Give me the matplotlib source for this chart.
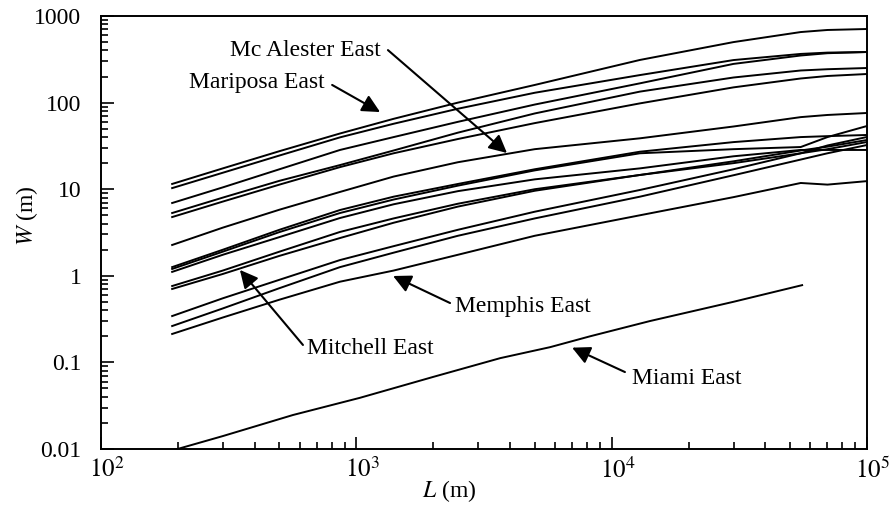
import numpy as np
import matplotlib
matplotlib.use("Agg")
import matplotlib.pyplot as plt
from matplotlib.transforms import ScaledTranslation

plt.rcParams['font.family'] = ['Liberation Serif', 'DejaVu Serif']
plt.rcParams['mathtext.fontset'] = 'stix'

# shared lengths L (m) for the 14 upper curves
L = [190, 300, 500, 863, 1400, 2500, 5000, 12900, 30000, 55000, 70000, 100000]

# widths W (m)
w01 = [11.5, 17.4, 27.5, 44.0, 65.0, 100, 160, 311, 500, 653, 690, 708]
w02 = [10.3, 15.5, 24.5, 39.7, 57.0, 85, 130, 208, 310, 365, 378, 384]
w03 = [6.93, 10.5, 17.0, 28.4, 40.0, 60, 95, 167, 280, 350, 372, 384]
w04 = [5.31, 8.0, 12.5, 19.0, 28.0, 45, 75, 134, 195, 235, 243, 251]
w05 = [4.77, 7.2, 11.3, 18.0, 26.0, 38, 58, 98, 150, 190, 203, 214]
w06 = [2.27, 3.6, 5.8, 9.3, 14.0, 20.5, 29, 38.7, 53, 68, 72, 75.9]
w07 = [1.26, 2.0, 3.4, 5.75, 8.2, 11.5, 17, 27.1, 35, 40, 41, 42.3]
w08 = [1.20, 1.9, 3.2, 5.31, 7.6, 11.0, 16.5, 26, 29, 30.7, 40, 53.7]
w09 = [1.11, 1.75, 2.8, 4.65, 6.7, 9.5, 13, 17.4, 24, 28.4, 28.4, 28.4]
w10 = [0.762, 1.15, 1.9, 3.21, 4.6, 6.8, 10, 14.6, 21, 28, 31, 37.0]
w11 = [0.705, 1.05, 1.7, 2.73, 4.1, 6.3, 9.6, 14.6, 20, 26, 29, 35.1]
w12 = [0.343, 0.55, 0.9, 1.52, 2.2, 3.4, 5.5, 9.8, 17, 26, 32, 40.1]
w13 = [0.263, 0.42, 0.72, 1.26, 1.85, 2.9, 4.6, 8.2, 14.5, 22, 26, 32.4]
w14 = [0.213, 0.33, 0.53, 0.855, 1.15, 1.75, 2.9, 5.0, 8.1, 11.8, 11.3, 12.4]
curves = [w01, w02, w03, w04, w05, w06, w07, w08, w09, w10, w11, w12, w13, w14]

# Miami East runs on its own lengths
miami_L = [190, 300, 565, 1033, 2000, 3660, 5740, 8220, 14100, 29900, 55700]
miami_W = [0.0096, 0.0141, 0.0247, 0.039, 0.068, 0.112, 0.15, 0.20, 0.30, 0.50, 0.78]

yticks = [0.01, 0.1, 1, 10, 100, 1000]
ylabels = ['0.01', '0.1', '1', '10', '100', '1000']
xticks = [1e2, 1e3, 1e4, 1e5]
xlabels = ['$10^{2}$', '$10^{3}$', '$10^{4}$', '$10^{5}$']

# name, text position, arrow tail, arrow tip, alignment
notes = [
    ('Mc Alester East', (1250, 404), (1330, 404), (3890, 26.2), 'right'),
    ('Mariposa East', (753, 173), (804, 160), (1239, 77.8), 'right'),
    ('Memphis East', (2436, 0.448), (2328, 0.485), (1393, 0.995), 'left'),
    ('Mitchell East', (641, 0.143), (618, 0.159), (350, 1.17), 'left'),
    ('Miami East', (12020, 0.066), (11270, 0.0774), (7000, 0.148), 'left'),
]

fig = plt.figure(figsize=(8.92, 5.07), dpi=100)
ax = fig.add_axes([0.1132, 0.1144, 0.8588, 0.854])

for w in curves:
    ax.plot(L, w, color='k', lw=1.4)
ax.plot(miami_L, miami_W, color='k', lw=1.4)

for name, txt, tail, tip, ha in notes:
    ax.text(txt[0], txt[1], name, ha=ha, va='center', fontsize=17)
    ax.annotate('', xy=tip, xytext=tail,
                arrowprops=dict(arrowstyle='-|>', color='k', lw=1.5,
                                mutation_scale=27, shrinkA=0, shrinkB=0))

ax.set_xscale('log')
ax.set_yscale('log')
ax.set_xlim(1e2, 1e5)
ax.set_ylim(0.01, 1000)
ax.set_xticks(xticks)
ax.set_xticklabels(xlabels)
ax.set_yticks(yticks)
ax.set_yticklabels(ylabels)

ax.tick_params(which='both', direction='in', top=False, right=False, width=1.2)
ax.tick_params(which='major', length=9)
ax.tick_params(axis='y', which='major', pad=14, labelsize=17)
ax.tick_params(axis='x', which='major', pad=6, labelsize=18)
ax.tick_params(which='minor', length=5)
for s in ax.spines.values():
    s.set_linewidth(1.4)

# the "10" sits over the tick, the exponent hangs to the right
shift = ScaledTranslation(6 / 100, 0, fig.dpi_scale_trans)
for lab in ax.get_xticklabels():
    lab.set_transform(lab.get_transform() + shift)

ax.set_xlabel('$L$ (m)', fontsize=17)
ax.set_ylabel('$W$ (m)', fontsize=17)
ax.xaxis.set_label_coords(0.455, -0.067)
ax.yaxis.set_label_coords(-0.08, 0.538)

fig.savefig('out.png', dpi=100)
